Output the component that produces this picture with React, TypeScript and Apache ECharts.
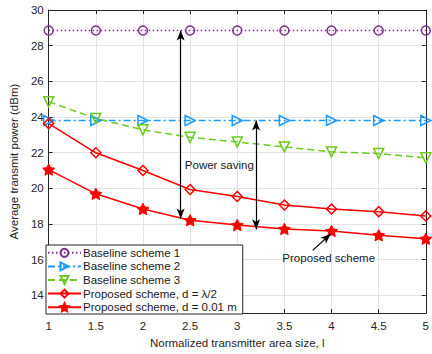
import React, { useEffect, useRef } from "react";
import * as echarts from "echarts";

const xValues = [1, 1.5, 2, 2.5, 3, 3.5, 4, 4.5, 5];
const baseline1 = [28.85, 28.85, 28.85, 28.85, 28.85, 28.85, 28.85, 28.85, 28.85];
const baseline2 = [23.8, 23.8, 23.8, 23.8, 23.8, 23.8, 23.8, 23.8, 23.8];
const baseline3 = [24.85, 23.92, 23.28, 22.86, 22.6, 22.32, 22.04, 21.95, 21.71];
const proposedHalf = [23.63, 21.99, 21.0, 19.93, 19.54, 19.06, 18.84, 18.69, 18.45];
const proposedSmall = [21.05, 19.69, 18.84, 18.21, 17.94, 17.72, 17.61, 17.37, 17.17];

const seriesNames = [
  "Baseline scheme 1",
  "Baseline scheme 2",
  "Baseline scheme 3",
  "Proposed scheme, d = λ/2",
  "Proposed scheme, d = 0.01 m",
];

const savingArrow1 = [[2.4, 28.85], [2.4, 18.3]];
const savingArrow2 = [[3.2, 23.8], [3.2, 17.7]];
const proposedArrow = [[3.8, 16.52], [3.99, 17.44]];
const savingLabelPos = [2.81, 21.3];
const proposedLabelPos = [3.97, 16.1];

const FONT = "'Liberation Sans', Arial, Helvetica, sans-serif";
const STAR =
  "path://M0,-10 L2.94,-4.05 L9.51,-3.09 L4.76,1.55 L5.88,8.09 L0,5 L-5.88,8.09 L-4.76,1.55 L-9.51,-3.09 L-2.94,-4.05 Z";

const zip = (ys: number[]) => xValues.map((x, i) => [x, ys[i]]);

export default function App() {
  const ref = useRef<HTMLDivElement>(null);
  useEffect(() => {
    if (!ref.current) return;
    const chart = echarts.init(ref.current, null, { renderer: "svg" });
    const axisColor = "#262626";
    const mk = (
      name: string,
      data: number[],
      color: string,
      lineType: any,
      symbol: string,
      symbolSize: number,
      rotate: number,
      filled: boolean,
      extra: any = {}
    ) => ({
      name,
      type: "line",
      data: zip(data),
      symbol,
      symbolSize,
      symbolRotate: rotate,
      symbolKeepAspect: true,
      showAllSymbol: true,
      lineStyle: { color, width: 1.5, type: lineType },
      itemStyle: filled
        ? { color, borderColor: color, borderWidth: 1 }
        : { color: "none", borderColor: color, borderWidth: 1.5 },
      emphasis: { disabled: true },
      z: 3,
      ...extra,
    });
    const arrowLine = (pts: number[][]) => [
      { coord: pts[0] },
      { coord: pts[1] },
    ];
    chart.setOption({
      animation: false,
      textStyle: { fontFamily: FONT },
      grid: { left: 45, right: 0.5, top: 10, bottom: 37, containLabel: false },
      xAxis: [
        {
          type: "value",
          min: 1,
          max: 5,
          interval: 0.5,
          name: "Normalized transmitter area size, l",
          nameLocation: "middle",
          nameGap: 20,
          nameTextStyle: { color: axisColor, fontSize: 11.5, fontFamily: FONT },
          axisLine: { lineStyle: { color: axisColor, width: 1 } },
          axisTick: { inside: true, length: 4, lineStyle: { color: axisColor } },
          axisLabel: { color: axisColor, fontSize: 11.5, margin: 7, fontFamily: FONT },
          splitLine: { show: true, lineStyle: { color: "#e3e3e3", width: 1 } },
        },
        {
          type: "value",
          position: "top",
          min: 1,
          max: 5,
          interval: 0.5,
          axisLine: { show: true, lineStyle: { color: axisColor, width: 1 } },
          axisTick: { show: true, inside: true, length: 4, lineStyle: { color: axisColor } },
          axisLabel: { show: false },
          splitLine: { show: false },
        },
      ],
      yAxis: [
        {
          type: "value",
          min: 13,
          max: 30,
          splitNumber: 8,
          name: "Average transmit power (dBm)",
          nameLocation: "middle",
          nameGap: 27,
          nameTextStyle: { color: axisColor, fontSize: 11.5, fontFamily: FONT },
          axisLine: { show: true, lineStyle: { color: axisColor, width: 1 } },
          axisTick: { show: true, inside: true, length: 4, lineStyle: { color: axisColor } },
          axisLabel: {
            color: axisColor,
            fontSize: 11.5,
            margin: 5,
            fontFamily: FONT,
            showMinLabel: false,
            formatter: (v: number) => (v % 2 === 0 ? String(v) : ""),
          },
          splitLine: { show: true, lineStyle: { color: "#e3e3e3", width: 1 } },
        },
        {
          type: "value",
          position: "right",
          min: 13,
          max: 30,
          splitNumber: 8,
          axisLine: { show: true, lineStyle: { color: axisColor, width: 1 } },
          axisTick: { show: true, inside: true, length: 4, lineStyle: { color: axisColor } },
          axisLabel: { show: false },
          splitLine: { show: false },
        },
      ],
      legend: {
        orient: "vertical",
        left: 46,
        top: 245,
        itemWidth: 33,
        itemHeight: 10,
        itemGap: 0,
        padding: [1, 6, 0, 1],
        backgroundColor: "#ffffff",
        borderColor: axisColor,
        borderWidth: 1,
        borderRadius: 0,
        textStyle: {
          color: "#1a1a1a",
          fontSize: 11.5,
          lineHeight: 13.6,
          height: 13.6,
          fontFamily: FONT,
          padding: [0, 0, 0, -3],
        },
        data: seriesNames,
        z: 10,
      },
      series: [
        mk(seriesNames[0], baseline1, "#7E2F8E", [1.5, 2.5], "circle", 9, 0, false, {
          markLine: {
            silent: true,
            symbol: ["arrow", "arrow"],
            symbolSize: [6, 10],
            label: { show: false },
            lineStyle: { color: "#000000", width: 1.2, type: "solid" },
            emphasis: { disabled: true },
            data: [arrowLine(savingArrow1), arrowLine(savingArrow2)],
            z: 5,
          },
        }),
        mk(seriesNames[1], baseline2, "#1A9BFF", [7, 3, 2, 3], "triangle", 10, -90, false),
        mk(seriesNames[2], baseline3, "#6CCB1D", [7, 4], "triangle", 10, 180, false, {
          markLine: {
            silent: true,
            symbol: ["none", "arrow"],
            symbolSize: [6, 10],
            label: { show: false },
            lineStyle: { color: "#000000", width: 1.2, type: "solid" },
            emphasis: { disabled: true },
            data: [arrowLine(proposedArrow)],
            z: 5,
          },
        }),
        mk(seriesNames[3], proposedHalf, "#FF0000", "solid", "diamond", 10, 0, false),
        mk(seriesNames[4], proposedSmall, "#FF0000", "solid", STAR, 12, 0, true),
      ],
    });
    const p1 = chart.convertToPixel({ gridIndex: 0 }, savingLabelPos) as number[];
    const p2 = chart.convertToPixel({ gridIndex: 0 }, proposedLabelPos) as number[];
    chart.setOption({
      graphic: [
        {
          type: "text",
          x: p1[0],
          y: p1[1],
          z: 20,
          style: {
            text: "Power saving",
            fill: "#1a1a1a",
            font: `11.5px ${FONT}`,
            textAlign: "center",
            textVerticalAlign: "middle",
          },
        },
        {
          type: "text",
          x: p2[0],
          y: p2[1],
          z: 20,
          style: {
            text: "Proposed scheme",
            fill: "#1a1a1a",
            font: `11.5px ${FONT}`,
            textAlign: "center",
            textVerticalAlign: "middle",
          },
        },
      ],
    });
    return () => chart.dispose();
  }, []);
  return (
    <div
      ref={ref}
      style={{ position: "absolute", left: 0, top: 0, width: 432, height: 354 }}
    />
  );
}
